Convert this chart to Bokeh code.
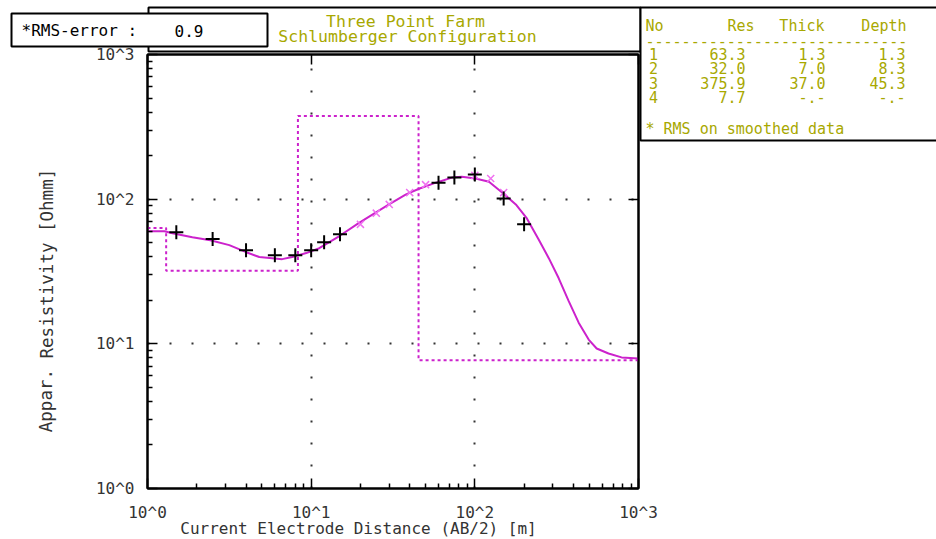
from bokeh.plotting import figure
from bokeh.layouts import column
from bokeh.models import Range1d, FixedTicker, LogAxis, CustomJSTickFormatter
from bokeh.embed import file_html
from bokeh.resources import INLINE
from bokeh.core.properties import value

# ---------------- data ----------------
# observed field data (AB/2 [m], apparent resistivity [Ohmm])
obs_ab2 = [1.5, 2.5, 4, 6, 8, 10, 12, 15, 60, 75, 100, 150, 200]
obs_rho = [59, 53, 44.4, 41, 41, 44.4, 50.4, 57.2, 130, 141, 148, 101, 67]

# smoothed data points (x markers)
smooth_ab2 = [20, 25, 30, 40, 50, 100, 125, 150]
smooth_rho = [67, 80, 92, 111, 126, 146, 139, 111]

# model response curve
curve_ab2 = [1.0, 1.27, 1.42, 1.88, 2.42, 3.16, 4.01, 4.82, 5.78, 6.65, 7.66, 9.33,
             11.2, 14.8, 19.4, 24.9, 29.9, 38.0, 45.6, 57.8, 72.4, 83.3, 101, 122,
             150, 178, 208, 245, 283, 325, 374, 431, 496, 555, 656, 788, 1000]
curve_rho = [60.0, 60.0, 58.1, 54.6, 52.0, 48.1, 43.0, 39.8, 39.1, 38.5, 39.8, 42.4,
             45.8, 55.4, 68.1, 81.0, 91.9, 108, 118, 130, 141, 143, 139, 132,
             109, 91.9, 73.6, 52.9, 39.1, 28.5, 19.8, 14.0, 10.7, 9.29, 8.58, 8.06, 7.93]

# layer model table
layer_no = ["1", "2", "3", "4"]
layer_res = [63.3, 32.0, 375.9, 7.7]
layer_thick = [1.3, 7.0, 37.0, None]
layer_depth = [1.3, 8.3, 45.3, None]

rms_error = 0.9
title_lines = ["Three Point Farm", "Schlumberger Configuration"]
x_label = "Current Electrode Distance (AB/2) [m]"
y_label = "Appar. Resistivity [Ohmm]"
major_ticks = [1, 10, 100, 1000]

# ---------------- styles ----------------
MONO = "DejaVu Sans Mono"
OLIVE = "#a8a800"
MAGENTA = "#cc22cc"
PINK = "#f070f0"
TXT = "#333333"

FL, FR, FT, FB = 147, 638, 54, 488   # frame edges in canvas px
W, H = 936, 539

# ---------------- main plot (full canvas) ----------------
p = figure(width=W, height=H, x_axis_type="log", y_axis_type="log",
           x_range=Range1d(1, 1000), y_range=Range1d(1, 1000),
           output_backend="svg", toolbar_location=None,
           min_border_left=FL, min_border_right=W - FR,
           min_border_top=FT, min_border_bottom=H - FB)
p.background_fill_color = "white"
p.border_fill_color = "white"
p.outline_line_color = "black"
p.outline_line_width = 2

minor = [m * 10 ** e for e in range(3) for m in range(2, 10)]
for ax in (p.xaxis[0], p.yaxis[0]):
    ax.ticker = FixedTicker(ticks=major_ticks, minor_ticks=minor)
    ax.formatter = CustomJSTickFormatter(code="return '10^' + Math.round(Math.log10(tick));")
    ax.major_tick_in = 10
    ax.major_tick_out = 0
    ax.minor_tick_in = 5
    ax.minor_tick_out = 0
    ax.major_tick_line_width = 1.5
    ax.minor_tick_line_width = 1.5
    ax.axis_line_width = 2
    ax.major_label_text_font = MONO
    ax.major_label_text_font_size = "16px"
    ax.major_label_text_color = TXT
p.yaxis[0].major_label_standoff = 13
p.xaxis[0].major_label_standoff = 14
p.yaxis[0].major_label_orientation = "horizontal"

for side in ("above", "right"):
    ax = LogAxis(ticker=FixedTicker(ticks=major_ticks, minor_ticks=[]),
                 formatter=CustomJSTickFormatter(code="return '';"),
                 major_tick_in=10, major_tick_out=0, major_tick_line_width=1.5,
                 axis_line_width=2, major_label_text_color=None,
                 major_label_text_font_size="0px", major_label_standoff=0)
    p.add_layout(ax, side)

for g in (p.xgrid[0], p.ygrid[0]):
    g.ticker = FixedTicker(ticks=[10, 100])
    g.grid_line_color = "black"
    g.grid_line_width = 2
    g.grid_line_dash = "2 20"
    g.grid_line_alpha = 0.8

# model step (layered earth)
step_x = [1.0] + layer_depth[:3] + [1000]
step_y = layer_res + [layer_res[-1]]
p.step(step_x, step_y, mode="after", line_color=MAGENTA, line_width=2, line_dash="3 3")
# model curve
p.line(curve_ab2, curve_rho, line_color=MAGENTA, line_width=2)
# smoothed data markers
p.scatter(smooth_ab2, smooth_rho, marker="x", size=10, line_color=PINK, line_width=1.5)
# observed data markers
p.scatter(obs_ab2, obs_rho, marker="cross", size=14, line_color="black", line_width=2)

# ---------------- transparent overlay for boxes and texts ----------------
ov = figure(width=W, height=H, x_range=Range1d(0, W), y_range=Range1d(H, 0),
            output_backend="svg", toolbar_location=None,
            x_axis_location=None, y_axis_location=None,
            min_border=0, min_border_left=0, min_border_right=0,
            min_border_top=0, min_border_bottom=0, margin=(-H, 0, 0, 0))
ov.outline_line_color = None
ov.grid.visible = False
ov.background_fill_alpha = 0
ov.border_fill_alpha = 0
for f in (p, ov):
    try:
        f.frame_align = False
    except Exception:
        pass


def txt(x, y, t, color=TXT, align="left", size="16px", angle=0.0):
    ov.text(x=[x], y=[y], text=[t], text_font=value(MONO), text_font_size=value(size),
            text_color=color, text_align=align, text_baseline="middle", angle=angle)


def box(l, t, r, b):
    ov.quad(left=[l], right=[r], top=[t], bottom=[b], fill_color="white",
            line_color="black", line_width=2)


# title box and rms box
box(148, 7, 640, 51)
box(640, 7, 950, 140)
box(11, 13, 267, 46)
txt(405, 21, title_lines[0], color=OLIVE, align="center", size="16.5px")
txt(407, 36, title_lines[1], color=OLIVE, align="center", size="16.5px")
txt(21, 30, "*RMS-error :", color="black")
txt(174, 30, "%.1f" % rms_error, color="black")

# layer table
hdr_y = 25
txt(645, hdr_y, "No", color=OLIVE, size="15px")
txt(754, hdr_y, "Res", color=OLIVE, align="right", size="15px")
txt(824, hdr_y, "Thick", color=OLIVE, align="right", size="15px")
txt(906, hdr_y, "Depth", color=OLIVE, align="right", size="15px")
txt(645, 40, "-" * 29, color=OLIVE, size="15px")
row_y = [53, 67.5, 82, 96.5]
for i in range(4):
    y = row_y[i]
    txt(653, y, layer_no[i], color=OLIVE, align="center", size="15px")
    txt(745, y, "%.1f" % layer_res[i], color=OLIVE, align="right", size="15px")
    t = "-.-" if layer_thick[i] is None else "%.1f" % layer_thick[i]
    d = "-.-" if layer_depth[i] is None else "%.1f" % layer_depth[i]
    txt(825, y, t, color=OLIVE, align="right", size="15px")
    txt(905, y, d, color=OLIVE, align="right", size="15px")
txt(645, 128, "* RMS on smoothed data", color=OLIVE, size="15px")

# axis titles
txt(358, 528, x_label, align="center")
txt(46, 300, y_label, align="center", size="17.5px", angle=1.5707963)

layout = column(p, ov, spacing=0)
open("out.html", "w").write(file_html(layout, INLINE))
